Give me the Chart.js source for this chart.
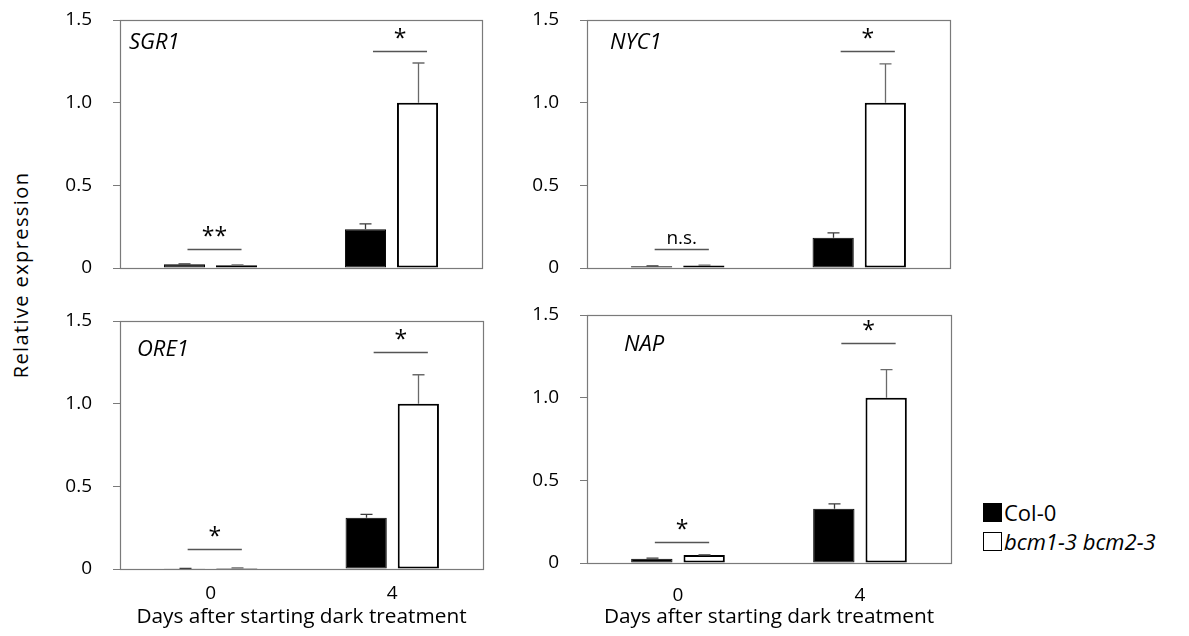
<!DOCTYPE html>
<html><head><meta charset="utf-8">
<script src="https://cdn.jsdelivr.net/npm/chart.js@4/dist/chart.umd.min.js"></script>
<style>
html,body{margin:0;padding:0;background:#fff;}
body{width:1189px;height:636px;position:relative;overflow:hidden;font-family:"Open Sans",Lato,sans-serif;color:#000;}
.panel{position:absolute;}
.panel canvas{display:block;}
.ytitle{position:absolute;left:20px;top:275px;transform:translate(-50%,-50%) rotate(-90deg);font-size:20px;letter-spacing:1.4px;white-space:nowrap;}
.lg-box{position:absolute;width:19px;height:19px;box-sizing:border-box;}
.lg-text{position:absolute;font-size:22px;line-height:22px;white-space:nowrap;}
</style></head>
<body>
<div class="panel" id="p1" style="left:40px;top:0px;width:460px;height:300px"><canvas id="c1"></canvas></div>
<div class="panel" id="p2" style="left:507px;top:0px;width:460px;height:300px"><canvas id="c2"></canvas></div>
<div class="panel" id="p3" style="left:40px;top:300px;width:460px;height:336px"><canvas id="c3"></canvas></div>
<div class="panel" id="p4" style="left:507px;top:300px;width:460px;height:336px"><canvas id="c4"></canvas></div>
<div class="ytitle">Relative expression</div>
<div class="lg-box" style="left:983px;top:503px;background:#000;"></div>
<div class="lg-text" style="left:1004px;top:501px;">Col-0</div>
<div class="lg-box" style="left:983px;top:532px;background:#fff;border:1.5px solid #000;"></div>
<div class="lg-text" style="left:1004px;top:530px;font-style:italic;">bcm1-3 bcm2-3</div>
<script>
// ---- data ----
const categories = ['0', '4'];
const seriesNames = ['Col-0', 'bcm1-3 bcm2-3'];
const yTicks = [0, 0.5, 1.0, 1.5];
const yTickLabels = ['0', '0.5', '1.0', '1.5'];

const sgr1Col0 = [0.022, 0.235];
const sgr1Bcm = [0.017, 1.0];
const sgr1Col0Err = [0.003, 0.032];
const sgr1BcmErr = [0.002, 0.24];
const sgr1Sig = ['**', '*'];
const sgr1SigLevel = [0.113, 1.313];

const nyc1Col0 = [0.01, 0.183];
const nyc1Bcm = [0.015, 1.0];
const nyc1Col0Err = [0.003, 0.03];
const nyc1BcmErr = [0.002, 0.235];
const nyc1Sig = ['n.s.', '*'];
const nyc1SigLevel = [0.113, 1.313];

const ore1Col0 = [0.002, 0.31];
const ore1Bcm = [0.006, 1.0];
const ore1Col0Err = [0.001, 0.02];
const ore1BcmErr = [0.001, 0.175];
const ore1Sig = ['*', '*'];
const ore1SigLevel = [0.119, 1.315];

const napCol0 = [0.025, 0.328];
const napBcm = [0.048, 1.0];
const napCol0Err = [0.004, 0.03];
const napBcmErr = [0.002, 0.17];
const napSig = ['*', '*'];
const napSigLevel = [0.129, 1.333];

const xTitle = 'Days after starting dark treatment';

// ---- drawing ----
const FONT = '"Open Sans", Lato, sans-serif';
const AXIS_GREY = '#7a7a7a';

const decoPlugin = {
  id: 'deco',
  afterDatasetsDraw(chart, args, o) {
    const ctx = chart.ctx, y = chart.scales.y, a = chart.chartArea;
    ctx.save();
    // error bars (upper only)
    chart.data.datasets.forEach((ds, di) => {
      const meta = chart.getDatasetMeta(di);
      meta.data.forEach((bar, i) => {
        const x = Math.round(bar.x) + 0.5;
        const yTop = y.getPixelForValue(ds.data[i]);
        const yErr = y.getPixelForValue(ds.data[i] + ds.errors[i]);
        ctx.strokeStyle = di === 0 ? '#3a3a3a' : '#6a6a6a';
        ctx.lineWidth = 1.3;
        ctx.beginPath();
        ctx.moveTo(x, yTop); ctx.lineTo(x, yErr);
        ctx.moveTo(x - 6, yErr); ctx.lineTo(x + 6, yErr);
        ctx.stroke();
      });
    });
    // significance lines and labels
    const m0 = chart.getDatasetMeta(0), m1 = chart.getDatasetMeta(1);
    o.sig.forEach((txt, i) => {
      const shift = o.sigShift[i];
      const x1 = m0.data[i].x + shift, x2 = m1.data[i].x + shift + 2;
      const ly = Math.round(y.getPixelForValue(o.sigLevel[i])) + 0.5;
      ctx.strokeStyle = '#555';
      ctx.lineWidth = 1.3;
      ctx.beginPath(); ctx.moveTo(x1, ly); ctx.lineTo(x2, ly); ctx.stroke();
      ctx.fillStyle = '#000';
      ctx.font = (txt.indexOf('*') >= 0 ? '23px ' : '19px ') + FONT;
      ctx.textAlign = 'center';
      ctx.textBaseline = 'alphabetic';
      ctx.fillText(txt, (x1 + x2) / 2, ly - 6);
    });
    // gene name
    ctx.font = 'italic 22px ' + FONT;
    ctx.textAlign = 'left';
    ctx.textBaseline = 'middle';
    ctx.fillStyle = '#000';
    ctx.fillText(o.gene, a.left + o.geneDx, a.top + o.geneDy);
    ctx.restore();
  },
  afterDraw(chart) {
    const ctx = chart.ctx, a = chart.chartArea;
    ctx.save();
    ctx.strokeStyle = AXIS_GREY;
    ctx.lineWidth = 1.2;
    ctx.strokeRect(Math.round(a.left) + 0.5, Math.round(a.top) + 0.5,
      Math.round(a.right - a.left), Math.round(a.bottom - a.top));
    ctx.restore();
  }
};

function makePanel(canvasId, p) {
  return new Chart(document.getElementById(canvasId), {
    type: 'bar',
    data: {
      labels: categories,
      datasets: [
        { label: seriesNames[0], data: p.col0, errors: p.col0Err,
          backgroundColor: '#000', borderColor: '#000', borderWidth: 1, borderSkipped: false },
        { label: seriesNames[1], data: p.bcm, errors: p.bcmErr,
          backgroundColor: '#fff', borderColor: '#000', borderWidth: 2, borderSkipped: false }
      ]
    },
    options: {
      responsive: true,
      maintainAspectRatio: false,
      animation: false,
      devicePixelRatio: 1,
      layout: { padding: p.padding },
      datasets: { bar: { categoryPercentage: 0.575, barPercentage: 0.79 } },
      plugins: {
        legend: { display: false },
        tooltip: { enabled: false },
        deco: { sig: p.sig, sigLevel: p.sigLevel, sigShift: [3, 7.5],
                gene: p.gene, geneDx: p.geneDx, geneDy: p.geneDy }
      },
      scales: {
        x: {
          type: 'category',
          grid: { display: false, drawTicks: false },
          border: { display: false },
          ticks: { display: p.showX, padding: p.tickPad, color: '#000',
                   font: { family: FONT, size: 19 }, maxRotation: 0 },
          title: { display: p.showX, text: xTitle, color: '#000',
                   font: { family: FONT, size: 20.8 }, padding: { top: 0, bottom: 6 } },
          afterFit(s) { s.height = p.xHeight; }
        },
        y: {
          min: 0, max: 1.5,
          grid: { drawOnChartArea: false, drawTicks: true, tickLength: 7, color: AXIS_GREY },
          border: { display: false },
          ticks: {
            stepSize: 0.5, padding: 21, color: '#000',
            font: { family: FONT, size: 19 },
            callback: (v) => { const k = yTicks.findIndex(t => Math.abs(t - v) < 1e-9); return k >= 0 ? yTickLabels[k] : ''; }
          },
          afterFit(s) { s.width = 80; s.paddingTop = 0; s.paddingBottom = 0; }
        }
      }
    },
    plugins: [decoPlugin]
  });
}

makePanel('c1', { col0: sgr1Col0, bcm: sgr1Bcm, col0Err: sgr1Col0Err, bcmErr: sgr1BcmErr,
  sig: sgr1Sig, sigLevel: sgr1SigLevel, gene: 'SGR1', geneDx: 9, geneDy: 23,
  padding: { top: 20, right: 18, bottom: 0, left: 0 }, xHeight: 32, showX: false, tickPad: 0 });
makePanel('c2', { col0: nyc1Col0, bcm: nyc1Bcm, col0Err: nyc1Col0Err, bcmErr: nyc1BcmErr,
  sig: nyc1Sig, sigLevel: nyc1SigLevel, gene: 'NYC1', geneDx: 23, geneDy: 23,
  padding: { top: 20, right: 17, bottom: 0, left: 0 }, xHeight: 32, showX: false, tickPad: 0 });
makePanel('c3', { col0: ore1Col0, bcm: ore1Bcm, col0Err: ore1Col0Err, bcmErr: ore1BcmErr,
  sig: ore1Sig, sigLevel: ore1SigLevel, gene: 'ORE1', geneDx: 17, geneDy: 29,
  padding: { top: 21, right: 17, bottom: 0, left: 0 }, xHeight: 67, showX: true, tickPad: 13 });
makePanel('c4', { col0: napCol0, bcm: napBcm, col0Err: napCol0Err, bcmErr: napBcmErr,
  sig: napSig, sigLevel: napSigLevel, gene: 'NAP', geneDx: 37, geneDy: 30,
  padding: { top: 15, right: 16, bottom: 0, left: 0 }, xHeight: 73, showX: true, tickPad: 21 });
</script>
</body></html>
